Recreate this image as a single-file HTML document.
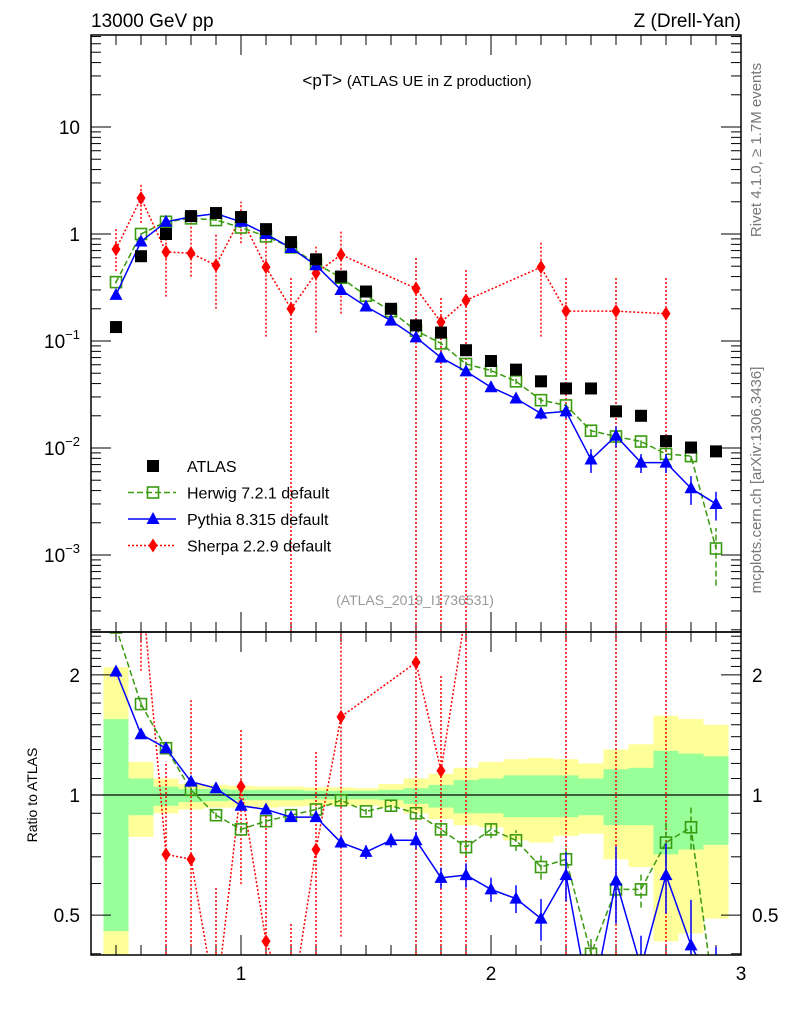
<!DOCTYPE html>
<html><head><meta charset="utf-8"><style>
html,body{margin:0;background:#fff;width:786px;height:1024px;overflow:hidden;}
svg{display:block;font-family:"Liberation Sans","DejaVu Sans",sans-serif;}
</style></head><body>
<svg id="c" width="786" height="1024" viewBox="0 0 786 1024" xmlns="http://www.w3.org/2000/svg">
<text x="91" y="27" font-size="19">13000 GeV pp</text>
<text x="741" y="27" font-size="19" text-anchor="end">Z (Drell-Yan)</text>
<text x="417" y="86" font-size="17" text-anchor="middle">&lt;pT&gt; <tspan font-size="15">(ATLAS UE in Z production)</tspan></text>
<text x="415" y="605" font-size="14" fill="#999" text-anchor="middle">(ATLAS_2019_I1736531)</text>
<text transform="translate(761,150) rotate(-90)" font-size="15" fill="#777" text-anchor="middle">Rivet 4.1.0, ≥ 1.7M events</text>
<text transform="translate(761,480) rotate(-90)" font-size="15" fill="#777" text-anchor="middle">mcplots.cern.ch [arXiv:1306.3436]</text>
<text transform="translate(37,795) rotate(-90)" font-size="14" text-anchor="middle">Ratio to ATLAS</text>
<defs>
<clipPath id="cm"><rect x="91" y="35" width="650" height="597"/></clipPath>
<clipPath id="cr"><rect x="91" y="632" width="650" height="323"/></clipPath>
</defs>
<g id="bands" clip-path="url(#cr)"></g>
<g id="grid"></g>
<g id="mainMarks" clip-path="url(#cm)"></g>
<g id="ratioMarks" clip-path="url(#cr)"></g>
<g id="frames"></g>
<g id="legend"></g>
</svg>
<script>
const xs=[0.5,0.6,0.7,0.8,0.9,1.0,1.1,1.2,1.3,1.4,1.5,1.6,1.7,1.8,1.9,2.0,2.1,2.2,2.3,2.4,2.5,2.6,2.7,2.8,2.9];
const atlas=[0.135,0.62,1.0,1.47,1.57,1.44,1.11,0.84,0.58,0.40,0.29,0.20,0.14,0.12,0.082,0.065,0.054,0.042,0.036,0.036,0.022,0.020,0.0116,0.0101,0.0093];
const herwig=[0.355,1.0,1.3,1.4,1.35,1.15,0.95,0.75,0.53,0.39,0.265,0.19,0.125,0.095,0.061,0.053,0.042,0.028,0.025,0.0145,0.0128,0.0115,0.0088,0.0084,0.00115];
const herwigErr=[0.03,0.02,0.02,0.02,0.02,0.02,0.02,0.02,0.02,0.02,0.02,0.03,0.03,0.04,0.05,0.05,0.06,0.07,0.08,0.1,0.1,0.1,0.12,0.12,0.55];
const pythia=[0.27,0.85,1.3,1.45,1.55,1.3,1.0,0.74,0.51,0.30,0.21,0.155,0.108,0.07,0.052,0.037,0.029,0.021,0.022,0.0078,0.013,0.0073,0.0073,0.0042,0.003];
const pythiaErr=[0.03,0.02,0.02,0.02,0.02,0.02,0.02,0.02,0.02,0.03,0.04,0.04,0.05,0.06,0.07,0.07,0.08,0.12,0.14,0.25,0.22,0.2,0.2,0.3,0.3];
const sherpaX=[0.5,0.6,0.7,0.8,0.9,1.0,1.1,1.2,1.3,1.4,1.7,1.8,1.9,2.2,2.3,2.5,2.7];
const sherpa=[0.72,2.17,0.68,0.66,0.51,1.44,0.49,0.2,0.43,0.64,0.31,0.15,0.24,0.49,0.19,0.19,0.18];
const sherpaHi=[1.14,2.9,1.16,1.67,1.0,2.0,1.02,0.40,0.76,1.09,0.61,0.26,0.48,0.86,0.39,0.39,0.39];
const sherpaLo=[0.45,1.27,0.26,0.40,0.2,0.82,0.11,1e-6,0.12,0.18,1e-6,1e-6,1e-6,0.11,1e-6,1e-6,1e-6];
const herwigRatio=[2.63,1.69,1.31,1.03,0.89,0.82,0.86,0.89,0.92,0.97,0.91,0.94,0.9,0.82,0.74,0.82,0.77,0.66,0.69,0.4,0.58,0.58,0.76,0.83,0.12];
const pythiaRatio=[2.04,1.42,1.31,1.08,1.04,0.94,0.92,0.88,0.88,0.76,0.72,0.77,0.77,0.62,0.63,0.58,0.55,0.49,0.63,0.22,0.61,0.37,0.63,0.42,0.32];
const sherpaRatio=[5.3,3.5,0.71,0.69,0.3,1.05,0.43,0.24,0.73,1.57,2.15,1.15,2.9,11.7,5.3,8.6,15.5];
const yelUp=[2.09,1.21,1.10,1.065,1.06,1.055,1.05,1.05,1.045,1.045,1.04,1.065,1.10,1.13,1.17,1.21,1.23,1.24,1.23,1.20,1.30,1.34,1.58,1.55,1.50];
const grnUp=[1.55,1.10,1.05,1.035,1.035,1.03,1.03,1.03,1.025,1.025,1.025,1.03,1.04,1.06,1.09,1.10,1.12,1.12,1.12,1.10,1.16,1.17,1.29,1.27,1.25];
const grnDn=[0.456,0.89,0.94,0.96,0.965,0.97,0.97,0.97,0.975,0.975,0.975,0.97,0.95,0.93,0.90,0.90,0.88,0.88,0.88,0.89,0.84,0.84,0.71,0.73,0.75];
const yelDn=[0.35,0.785,0.90,0.92,0.93,0.93,0.93,0.935,0.94,0.94,0.94,0.93,0.90,0.87,0.84,0.83,0.77,0.76,0.79,0.80,0.69,0.66,0.43,0.45,0.49];
const xTickLabels=["1","2","3"];
const NS="http://www.w3.org/2000/svg";
const X=v=>91+(v-0.4)*250;
const Y=v=>234-Math.log10(v)*107;
const R=v=>795-Math.log10(v)*399;
function el(t,a,p){const e=document.createElementNS(NS,t);for(const k in a)e.setAttribute(k,a[k]);p.appendChild(e);return e;}
const G=id=>document.getElementById(id);
const gb=G('bands');
xs.forEach((x,i)=>{
 const x0=X(x-0.05),w=25;
 let r=el('rect',{x:x0,y:R(yelUp[i]),width:w,height:Math.min(R(yelDn[i]),960)-R(yelUp[i]),fill:'#ffff99'},gb);
 
 
 r=el('rect',{x:x0,y:R(grnUp[i]),width:w,height:R(grnDn[i])-R(grnUp[i]),fill:'#99ff99'},gb);
 
 
});
el('line',{x1:91,x2:741,y1:R(1),y2:R(1),stroke:'#000','stroke-width':1.2},gb);
const gg=G('grid');
function tk(x1,y1,x2,y2){el('line',{x1,y1,x2,y2,stroke:'#000','stroke-width':1},gg);}
for(let d=-4;d<=1;d++){for(let m=1;m<10;m++){const v=m*Math.pow(10,d);const y=Y(v);if(y<35||y>632)continue;const L=m==1?20:10;tk(91,y,91+L,y);tk(741,y,741-L,y);}}
[["10",10],["1",1]].forEach(([t,v])=>{const e=el('text',{x:80,y:Y(v)+7,'font-size':19,'text-anchor':'end'},gg);e.textContent=t;});
[-1,-2,-3].forEach(p=>{const e=el('text',{x:80,y:Y(Math.pow(10,p))+7,'font-size':19,'text-anchor':'end'},gg);e.innerHTML='10<tspan font-size="13" dy="-9">−'+(-p)+'</tspan>';});
for(let v=0.4;v<2.6;v+=0.1){const val=+v.toFixed(1);const y=R(val);if(y<632||y>955)continue;const maj=[0.5,1,2].includes(val);const L=maj?20:10;tk(91,y,91+L,y);tk(741,y,741-L,y);}
[["2",2],["1",1],["0.5",0.5]].forEach(([t,v])=>{let e=el('text',{x:80,y:R(v)+7,'font-size':19,'text-anchor':'end'},gg);e.textContent=t;
 e=el('text',{x:752,y:R(v)+7,'font-size':19},gg);e.textContent=t;});
for(let k=0;k<=26;k++){const v=0.4+k*0.1;const x=X(v);const maj=k%10==6;const L=maj?20:10;[[35,1],[632,-1],[632,1],[955,-1]].forEach(([y0,s])=>tk(x,y0,x,y0+s*L));}
xTickLabels.forEach((t,i)=>{const e=el('text',{x:X(i+1),y:980,'font-size':19,'text-anchor':'middle'},gg);e.textContent=t;});
const gf=G('frames');
el('rect',{x:91,y:35,width:650,height:597,fill:'none',stroke:'#000','stroke-width':1.5},gf);
el('rect',{x:91,y:632,width:650,height:323,fill:'none',stroke:'#000','stroke-width':1.5},gf);
function marker(p,type,x,y,c){
 let e;
 if(type=='sq')e=el('rect',{x:x-6,y:y-6,width:12,height:12,fill:'#000'},p);
 else if(type=='osq')e=el('rect',{x:x-5.5,y:y-5.5,width:11,height:11,fill:'#fff','fill-opacity':0,stroke:c,'stroke-width':1.6},p);
 else if(type=='tri')e=el('polygon',{points:`${x},${y-7} ${x-6.5},${y+5} ${x+6.5},${y+5}`,fill:c},p);
 else e=el('polygon',{points:`${x},${y-7} ${x-4.5},${y} ${x},${y+7} ${x+4.5},${y}`,fill:c},p);
 return e;
}
const clampY=y=>Math.max(-50,Math.min(y,1010));
function series(p,xv,yv,lo,hi,fy,c,dash,type,name){
 el('polyline',{points:xv.map((x,i)=>X(x)+','+clampY(fy(yv[i]))).join(' '),fill:'none',stroke:c,'stroke-width':1.5,'stroke-dasharray':dash},p);
 xv.forEach((x,i)=>{
  const y1=clampY(fy(Math.max(lo[i],1e-9))),y2=clampY(fy(hi[i]));
  const eb=el('line',{x1:X(x),x2:X(x),y1:y1,y2:y2,stroke:c,'stroke-width':1.5,'stroke-dasharray':dash},p);
  
  
  const m=marker(p,type,X(x),clampY(fy(yv[i])),c);
  
  
 });
}
const gm=G('mainMarks'),gr=G('ratioMarks');
series(gm,sherpaX,sherpa,sherpaLo,sherpaHi,Y,'#f00','2,2','dia','sherpa');
series(gm,xs,herwig,herwig.map((v,i)=>v*(1-herwigErr[i])),herwig.map((v,i)=>v*(1+herwigErr[i])),Y,'#3a9a10','6,3','osq','herwig');
series(gm,xs,pythia,pythia.map((v,i)=>v*(1-pythiaErr[i])),pythia.map((v,i)=>v*(1+pythiaErr[i])),Y,'#00f','','tri','pythia');
xs.forEach((x,i)=>{const m=marker(gm,'sq',X(x),Y(atlas[i]));});
series(gr,sherpaX,sherpaRatio,sherpaRatio.map((v,i)=>v*sherpaLo[i]/sherpa[i]),sherpaRatio.map((v,i)=>v*sherpaHi[i]/sherpa[i]),R,'#f00','2,2','dia','sherpa-ratio');
series(gr,xs,herwigRatio,herwigRatio.map((v,i)=>v*(1-herwigErr[i])),herwigRatio.map((v,i)=>v*(1+herwigErr[i])),R,'#3a9a10','6,3','osq','herwig-ratio');
series(gr,xs,pythiaRatio,pythiaRatio.map((v,i)=>v*(1-pythiaErr[i])),pythiaRatio.map((v,i)=>v*(1+pythiaErr[i])),R,'#00f','','tri','pythia-ratio');
const gl=G('legend');
const leg=[["ATLAS","sq","#000",""],["Herwig 7.2.1 default","osq","#3a9a10","6,3"],["Pythia 8.315 default","tri","#00f",""],["Sherpa 2.2.9 default","dia","#f00","2,2"]];
leg.forEach((l,i)=>{const y=466+i*26.5;const g=el('g',{},gl);
 
 
 if(i>0)el('line',{x1:128,x2:176,y1:y,y2:y,stroke:l[2],'stroke-width':1.5,'stroke-dasharray':l[3]},g);
 marker(g,l[1],153,y,l[2]);
 const t=el('text',{x:187,y:y+6,'font-size':16},g);t.textContent=l[0];});
</script>
</body></html>
